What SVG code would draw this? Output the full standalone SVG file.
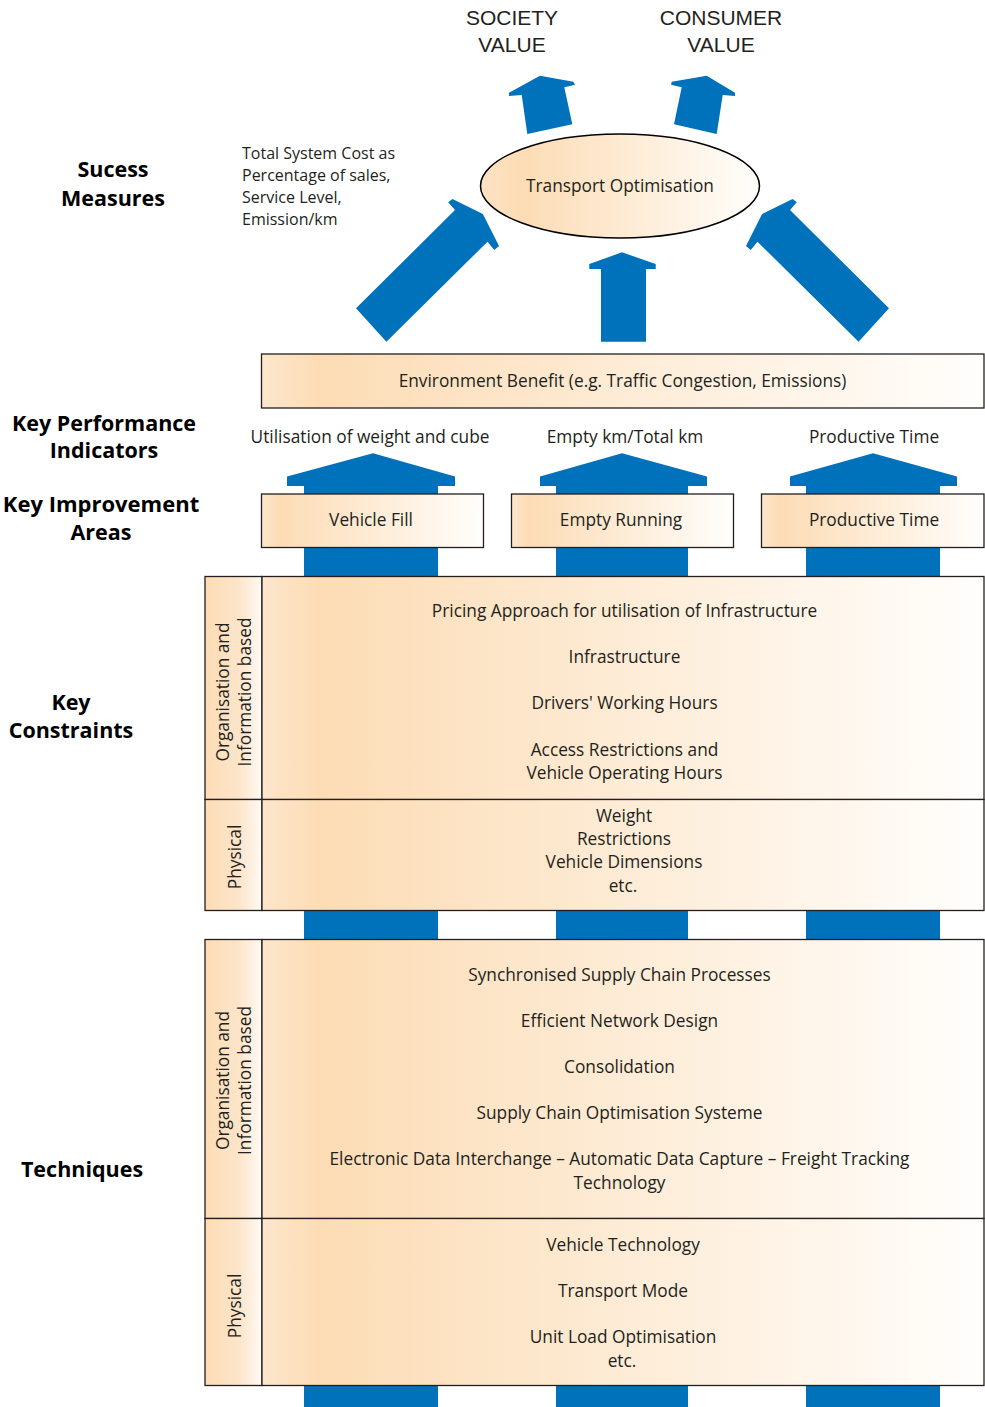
<svg xmlns="http://www.w3.org/2000/svg" width="985" height="1407" viewBox="0 0 985 1407">
<style>
.t{font-family:"Open Sans","Liberation Sans",sans-serif;font-size:17.3px;fill:#231f20;text-anchor:middle}
.s{font-family:"Open Sans","Liberation Sans",sans-serif;font-size:16px;fill:#231f20}
.h{font-family:"Liberation Sans","Open Sans",sans-serif;font-size:21px;fill:#231f20;text-anchor:middle}
.b{font-family:"Open Sans","Liberation Sans",sans-serif;font-size:21.5px;font-weight:bold;fill:#000;text-anchor:middle}
.box{fill:url(#g);stroke:#231f20;stroke-width:1.3}
.side{fill:url(#gs);stroke:#231f20;stroke-width:1.3}
.arr{fill:#0071bb}
</style>
<defs>
<linearGradient id="g" x1="0" y1="0" x2="1" y2="0">
<stop offset="0" stop-color="#fde6cc"/>
<stop offset="0.08" stop-color="#fcdcb5"/>
<stop offset="1" stop-color="#fffefc"/>
</linearGradient>
<linearGradient id="ge" x1="0" y1="0" x2="1" y2="0">
<stop offset="0" stop-color="#fde2c2"/>
<stop offset="0.15" stop-color="#fcdcb5"/>
<stop offset="1" stop-color="#fffefc"/>
</linearGradient>
<linearGradient id="gs" x1="0" y1="0" x2="1" y2="0">
<stop offset="0" stop-color="#fcdcb5"/>
<stop offset="0.6" stop-color="#fde5ca"/>
<stop offset="1" stop-color="#fffaf4"/>
</linearGradient>
</defs>

<g id="labels">
<text class="h" x="512" y="25">SOCIETY</text>
<text class="h" x="512" y="52">VALUE</text>
<text class="h" x="721" y="25">CONSUMER</text>
<text class="h" x="721" y="52">VALUE</text>
<text class="b" x="113" y="177">Sucess</text>
<text class="b" x="113" y="206">Measures</text>
<text class="s" x="242" y="159">Total System Cost as</text>
<text class="s" x="242" y="181">Percentage of sales,</text>
<text class="s" x="242" y="203">Service Level,</text>
<text class="s" x="242" y="225">Emission/km</text>
<text class="b" x="104" y="431">Key Performance</text>
<text class="b" x="104" y="458">Indicators</text>
<text class="b" x="101" y="512" style="font-size:22px">Key Improvement</text>
<text class="b" x="101" y="540">Areas</text>
<text class="b" x="71" y="710">Key</text>
<text class="b" x="71" y="738">Constraints</text>
<text class="b" x="82" y="1177">Techniques</text>
<text class="t" x="370" y="443">Utilisation of weight and cube</text>
<text class="t" x="625" y="443">Empty km/Total km</text>
<text class="t" x="874" y="443">Productive Time</text>
</g>

<g id="connectors">
<polygon class="arr" points="540,75.7 573.3,81.7 575,84.7 564.3,87.3 572.3,124.3 527.3,134 521.7,95 509,96 509,92.7"/>
<polygon class="arr" points="706.7,75.7 735,92.7 735,96 722.7,95 716.7,134 674,124.3 681.7,87.3 671,84.7 671.7,81.7"/>
<polygon class="arr" points="356,308.3 455,210 448.2,202.3 452.5,199 482.9,214 499,246 494.3,250 487.5,241.7 386.4,341.7"/>
<polygon class="arr" points="889,308.3 790,210 796.8,202.3 792.5,199 762.1,214 746,246 750.7,250 757.5,241.7 858.6,341.7"/>
<polygon class="arr" points="622,252.3 589.3,264 589.3,269 601,269 601,341.7 646,341.7 646,269 655.7,269 655.7,264"/>
<polygon class="arr" points="373,453.3 287,476.5 287,486 304,486 304,578 438,578 438,486 455,486 455,476.5"/>
<polygon class="arr" points="622,453.3 540,476.5 540,486 556,486 556,578 688,578 688,486 707,486 707,476.5"/>
<polygon class="arr" points="873,453.3 790,476.5 790,486 806,486 806,578 940,578 940,486 957,486 957,476.5"/>
<rect class="arr" x="304" y="910" width="134" height="30"/>
<rect class="arr" x="556" y="910" width="132" height="30"/>
<rect class="arr" x="806" y="910" width="134" height="30"/>
<rect class="arr" x="304" y="1385" width="134" height="22"/>
<rect class="arr" x="556" y="1385" width="132" height="22"/>
<rect class="arr" x="806" y="1385" width="134" height="22"/>
</g>

<g id="transport-optimisation">
<ellipse cx="620" cy="186" rx="139.5" ry="52" fill="url(#ge)" stroke="#000" stroke-width="1.5"/>
<text class="t" x="620" y="192">Transport Optimisation</text>
</g>

<g id="environment-benefit">
<rect class="box" x="261.5" y="354" width="722.5" height="54"/>
<text class="t" x="622.5" y="387">Environment Benefit (e.g. Traffic Congestion, Emissions)</text>
</g>

<g id="vehicle-fill">
<rect class="box" x="261.5" y="494" width="222" height="53.5"/>
<text class="t" x="371" y="526">Vehicle Fill</text>
</g>
<g id="empty-running">
<rect class="box" x="511.5" y="494" width="222" height="53.5"/>
<text class="t" x="621" y="526">Empty Running</text>
</g>
<g id="productive-time">
<rect class="box" x="761.5" y="494" width="222.5" height="53.5"/>
<text class="t" x="874" y="526">Productive Time</text>
</g>

<g id="constraints-org">
<rect class="side" x="205" y="576.5" width="57" height="223"/>
<rect class="box" x="262" y="576.5" width="722" height="223"/>
<g transform="translate(0,692) rotate(-90)">
<text class="t" x="0" y="228.5">Organisation and</text>
<text class="t" x="0" y="250.5">Information based</text>
</g>
<text class="t" x="624.5" y="617">Pricing Approach for utilisation of Infrastructure</text>
<text class="t" x="624.5" y="663">Infrastructure</text>
<text class="t" x="624.5" y="709">Drivers' Working Hours</text>
<text class="t" x="624.5" y="756">Access Restrictions and</text>
<text class="t" x="624.5" y="779">Vehicle Operating Hours</text>
</g>

<g id="constraints-physical">
<rect class="side" x="205" y="799.5" width="57" height="111"/>
<rect class="box" x="262" y="799.5" width="722" height="111"/>
<text class="t" transform="translate(241,857) rotate(-90)" x="0" y="0">Physical</text>
<text class="t" x="624" y="822">Weight</text>
<text class="t" x="624" y="845">Restrictions</text>
<text class="t" x="624" y="868">Vehicle Dimensions</text>
<text class="t" x="623" y="892">etc.</text>
</g>

<g id="techniques-org">
<rect class="side" x="205" y="939.5" width="57" height="279"/>
<rect class="box" x="262" y="939.5" width="722" height="279"/>
<g transform="translate(0,1080.5) rotate(-90)">
<text class="t" x="0" y="228.5">Organisation and</text>
<text class="t" x="0" y="250.5">Information based</text>
</g>
<text class="t" x="619.5" y="981">Synchronised Supply Chain Processes</text>
<text class="t" x="619.5" y="1027">Efficient Network Design</text>
<text class="t" x="619.5" y="1073">Consolidation</text>
<text class="t" x="619.5" y="1119">Supply Chain Optimisation Systeme</text>
<text class="t" x="619.5" y="1165">Electronic Data Interchange – Automatic Data Capture – Freight Tracking</text>
<text class="t" x="619.5" y="1189">Technology</text>
</g>

<g id="techniques-physical">
<rect class="side" x="205" y="1218.5" width="57" height="167"/>
<rect class="box" x="262" y="1218.5" width="722" height="167"/>
<text class="t" transform="translate(241,1306) rotate(-90)" x="0" y="0">Physical</text>
<text class="t" x="623" y="1251">Vehicle Technology</text>
<text class="t" x="623" y="1297">Transport Mode</text>
<text class="t" x="623" y="1343">Unit Load Optimisation</text>
<text class="t" x="622" y="1367">etc.</text>
</g>
</svg>
